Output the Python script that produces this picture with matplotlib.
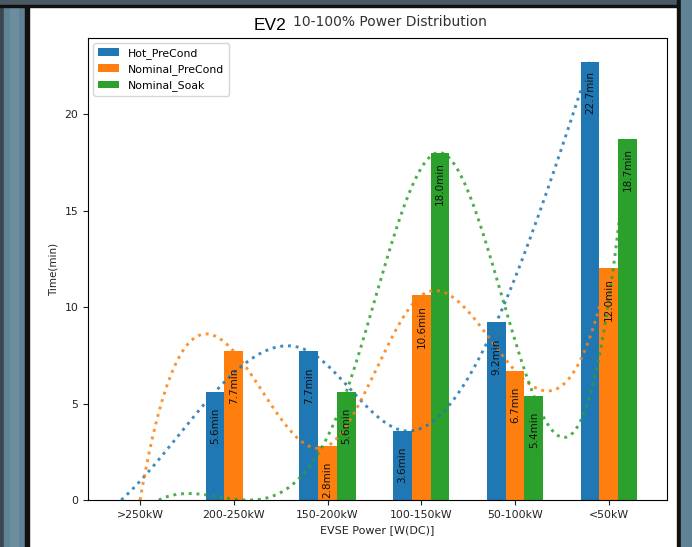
import matplotlib
matplotlib.use("Agg")
import matplotlib.pyplot as plt
from matplotlib.patches import Rectangle
import numpy as np

categories = ['>250kW', '200-250kW', '150-200kW', '100-150kW', '50-100kW', '<50kW']
hot_precond = [0, 5.6, 7.7, 3.6, 9.2, 22.7]
nominal_precond = [0, 7.7, 2.8, 10.6, 6.7, 12.0]
nominal_soak = [0, 0, 5.6, 18.0, 5.4, 18.7]
series_names = ['Hot_PreCond', 'Nominal_PreCond', 'Nominal_Soak']

W, H = 692, 547


def spline(xs, ys, num=300):
    # cubic spline, not-a-knot ends
    xs = np.asarray(xs, float)
    ys = np.asarray(ys, float)
    n = len(xs)
    h = np.diff(xs)
    A = np.zeros((n, n))
    b = np.zeros(n)
    for i in range(1, n - 1):
        A[i, i - 1] = h[i - 1]
        A[i, i] = 2 * (h[i - 1] + h[i])
        A[i, i + 1] = h[i]
        b[i] = 6 * ((ys[i + 1] - ys[i]) / h[i] - (ys[i] - ys[i - 1]) / h[i - 1])
    A[0, 0], A[0, 1], A[0, 2] = h[1], -(h[0] + h[1]), h[0]
    A[-1, -3], A[-1, -2], A[-1, -1] = h[-1], -(h[-2] + h[-1]), h[-2]
    M = np.linalg.solve(A, b)
    xn = np.linspace(xs[0], xs[-1], num)
    idx = np.clip(np.searchsorted(xs, xn) - 1, 0, n - 2)
    x0, x1 = xs[idx], xs[idx + 1]
    hh = x1 - x0
    yn = (M[idx] * (x1 - xn) ** 3 / (6 * hh) + M[idx + 1] * (xn - x0) ** 3 / (6 * hh)
          + (ys[idx] / hh - M[idx] * hh / 6) * (x1 - xn)
          + (ys[idx + 1] / hh - M[idx + 1] * hh / 6) * (xn - x0))
    return xn, yn


def px(x, y, w, h):
    # pixel box (top-left origin) -> figure fraction rect
    return (x / W, 1 - (y + h) / H, w / W, h / H)


fig = plt.figure(figsize=(W / 100, H / 100), dpi=100)

# screenshot frame
for (x, y, w, h, c) in [(0, 0, 4, H, '#3c4650'), (4, 0, 22, H, '#5f8294'), (10, 0, 8, H, '#6b8e9f'),
                        (25, 0, 4, H, '#111111'), (0, 0, W, 6, '#4a5a64'), (0, 5, W, 2, '#111111'),
                        (677, 0, 4, H, '#111111'), (681, 0, 11, H, '#5f8294')]:
    l, bt, ww, hh = px(x, y, w, h)
    fig.add_artist(Rectangle((l, bt), ww, hh, transform=fig.transFigure, color=c, zorder=-5))

ax = fig.add_axes(px(88, 38, 579, 462))

x = np.arange(len(categories))
width = 0.2
colors = ['#1f77b4', '#ff7f0e', '#2ca02c']
data = [hot_precond, nominal_precond, nominal_soak]

for k, (vals, name, c) in enumerate(zip(data, series_names, colors)):
    pos = x + (k - 1) * width
    ax.bar(pos, vals, width, color=c, label=name)
    for p, v in zip(pos, vals):
        if v > 0:
            ax.text(p, v - 2.7, '%.1fmin' % v, rotation=90, ha='center', va='bottom',
                    fontsize=7.5, color='#111111')

for k, (vals, c) in enumerate(zip(data, colors)):
    xs, ys = spline(x + (k - 1) * width, vals)
    ax.plot(xs, ys, ':', color=c, lw=2.1, alpha=0.85)

ax.set_xlim(-0.555, 5.62)
ax.set_ylim(0, 23.94)
ax.set_xticks(x)
ax.set_xticklabels(categories)
ax.set_yticks([0, 5, 10, 15, 20])
ax.tick_params(labelsize=7.8, colors='#222222')
ax.set_xlabel('EVSE Power [W(DC)]', fontsize=8, color='#222222')
ax.set_ylabel('Time(min)', fontsize=7.5, color='#222222')
ax.legend(loc='upper left', fontsize=7.8)

fig.text(293 / W, 1 - 22 / H, '10-100% Power Distribution', ha='left', va='center',
         fontsize=10, color='#333333')
fig.text(270 / W, 1 - 25 / H, 'EV2', ha='center', va='center', fontsize=12.5,
         family='Liberation Sans', color='black',
         bbox=dict(facecolor='white', edgecolor='none', pad=1))

fig.savefig('out.png', dpi=100)
